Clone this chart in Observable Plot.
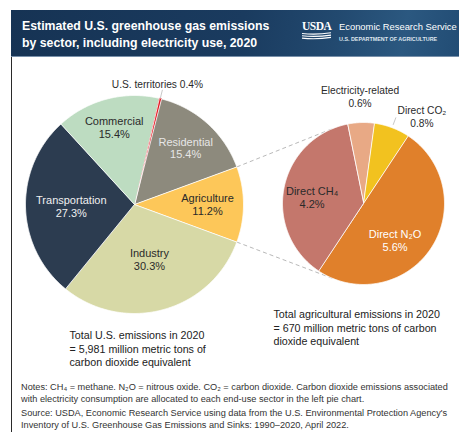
<!DOCTYPE html>
<html>
<head>
<meta charset="utf-8">
<script src="https://cdn.jsdelivr.net/npm/d3@7"></script>
<script src="https://cdn.jsdelivr.net/npm/@observablehq/plot@0.6"></script>
<style>
  html, body { margin: 0; padding: 0; background: #fff; }
  body { width: 459px; height: 432px; position: relative; overflow: hidden; font-family: "Liberation Sans", Arial, sans-serif; }
  #header { position: absolute; left: 11px; top: 10px; width: 460px; height: 47px;
    background: linear-gradient(100deg, #163354 0%, #1a3b5f 50%, #22496f 70%, #2b5880 85%, #204a72 100%); border-bottom: 1px solid #7890aa; box-sizing: border-box; }
  #title { position: absolute; left: 11px; top: 8px; color: #fff; font-weight: bold; font-size: 12.3px; line-height: 16.5px; }
  #usda { position: absolute; left: 291px; top: 10px; color: #fff; font-family: "Liberation Serif", "DejaVu Serif", serif; font-size: 11.5px; letter-spacing: -0.5px; font-weight: bold; line-height: 12px; }
  #ers { position: absolute; left: 328px; top: 11px; color: #fff; font-size: 9.4px; white-space: nowrap; line-height: 12px; }
  #dept { position: absolute; left: 328px; top: 26px; color: #dfe6ee; font-size: 5.4px; font-weight: bold; white-space: nowrap; line-height: 6px; }
  #stripes { position: absolute; left: 290px; top: 22px; }
  #frame { position: absolute; left: 11px; top: 57px; width: 1.3px; height: 380px; background: #2a2a2a; }
  #chart { position: absolute; left: 0; top: 57px; }
  #notes { position: absolute; left: 21px; top: 382px; font-size: 9.2px; line-height: 11.8px; color: #333; white-space: nowrap; }
  #notes p { margin: 0; }
  #notes p + p { margin-top: 2.5px; }
</style>
</head>
<body>
<div id="header">
  <div id="title">Estimated U.S. greenhouse gas emissions<br>by sector, including electricity use, 2020</div>
  <div id="usda">USDA</div>
  <svg id="stripes" width="32" height="8">
    <path d="M1,1.5 Q15,3 30,0.8" stroke="#fff" stroke-width="1.1" fill="none"/>
    <path d="M1,3.8 Q15,5.3 30,3.1" stroke="#fff" stroke-width="1.1" fill="none"/>
    <path d="M1,6.1 Q15,7.6 30,5.4" stroke="#fff" stroke-width="1.1" fill="none"/>
  </svg>
  <div id="ers">Economic Research Service</div>
  <div id="dept">U.S. DEPARTMENT OF AGRICULTURE</div>
</div>
<div id="frame"></div>
<div id="chart"></div>
<div id="notes">
  <p>Notes: CH₄ = methane. N₂O = nitrous oxide. CO₂ = carbon dioxide. Carbon dioxide emissions associated<br>with electricity consumption are allocated to each end-use sector in the left pie chart.</p>
  <p>Source: USDA, Economic Research Service using data from the U.S. Environmental Protection Agency's<br>Inventory of U.S. Greenhouse Gas Emissions and Sinks: 1990–2020, April 2022.</p>
</div>
<script>
// ---- data ----
const sectors = ["U.S. territories", "Residential", "Agriculture", "Industry", "Transportation", "Commercial"];
const sectorShares = [0.4, 15.4, 11.2, 30.3, 27.3, 15.4];
const agSources = ["Electricity-related", "Direct CO₂", "Direct N₂O", "Direct CH₄"];
const agShares = [0.6, 0.8, 5.6, 4.2];
const totalUS = "5,981";
const totalAg = "670";
const year = 2020;

// ---- styles ----
const sectorColor = {"U.S. territories": "#e3151e", "Residential": "#8d8a7d", "Agriculture": "#fdc759",
  "Industry": "#d7d9a6", "Transportation": "#2c3c50", "Commercial": "#bddcc1"};
const sectorLabelColor = {"Residential": "#e6e6e6", "Agriculture": "#2a2a2a", "Industry": "#2a2a2a",
  "Transportation": "#f0f0f0", "Commercial": "#2a2a2a"};
const sectorLabelR = {"Residential": 0.70, "Agriculture": 0.67, "Industry": 0.52, "Transportation": 0.58, "Commercial": 0.73};
const agColor = {"Electricity-related": "#e8a985", "Direct CO₂": "#f2c21f", "Direct N₂O": "#e0802b", "Direct CH₄": "#c4776c"};
const agLabelColor = {"Direct N₂O": "#ffffff", "Direct CH₄": "#2a2a2a"};
const agLabelPos = {"Direct N₂O": [0.6, 16], "Direct CH₄": [0.64, -4]}; // [radius fraction, angle nudge]

// ---- layout (page pixel space) ----
const top0 = 57, H = 318, W = 459;
const Lp = {cx: 134, cy: 204, r: 109};
const Rp = {cx: 363, cy: 203, r: 81, start: -11.5};
const rad = a => a * Math.PI / 180;
const pt = (c, a, r) => [c.cx + r * Math.sin(rad(a)), c.cy - r * Math.cos(rad(a))];

function slices(names, vals, c, start) {
  const tot = d3.sum(vals);
  let a = start;
  return names.map((n, i) => {
    const a0 = a, a1 = a + vals[i] / tot * 360; a = a1;
    return {name: n, value: vals[i], a0, a1, mid: (a0 + a1) / 2};
  });
}
// left pie rotated so Agriculture is centred on 3 o'clock
const agIdx = sectors.indexOf("Agriculture");
const before = d3.sum(sectorShares.slice(0, agIdx));
Lp.start = 90 - (before + sectorShares[agIdx] / 2) / d3.sum(sectorShares) * 360;

const left = slices(sectors, sectorShares, Lp, Lp.start);
const right = slices(agSources, agShares, Rp, Rp.start);

function polys(sl, c, colorOf, strokeOf) {
  const out = [];
  for (const s of sl) {
    const n = Math.max(2, Math.ceil((s.a1 - s.a0) / 0.5));
    out.push({key: s.name, x: c.cx, y: c.cy, fill: colorOf(s.name), stroke: strokeOf(s.name)});
    for (let i = 0; i <= n; i++) {
      const [x, y] = pt(c, s.a0 + (s.a1 - s.a0) * i / n, c.r);
      out.push({key: s.name, x, y, fill: colorOf(s.name), stroke: strokeOf(s.name)});
    }
  }
  return out;
}
const leftPoly = polys(left, Lp, n => sectorColor[n], n => n === "U.S. territories" ? sectorColor[n] : "#ffffff");
const rightPoly = polys(right, Rp, n => agColor[n], n => "#ffffff");

// tangent connectors from the Agriculture slice to the right pie
function tangent(P, c, pickTop) {
  const dx = P[0] - c.cx, dy = P[1] - c.cy, d = Math.hypot(dx, dy);
  const base = Math.atan2(dy, dx), off = Math.acos(c.r / d);
  const t1 = [c.cx + c.r * Math.cos(base + off), c.cy + c.r * Math.sin(base + off)];
  const t2 = [c.cx + c.r * Math.cos(base - off), c.cy + c.r * Math.sin(base - off)];
  return pickTop ? (t1[1] < t2[1] ? t1 : t2) : (t1[1] > t2[1] ? t1 : t2);
}
const agSlice = left[agIdx];
const pTop = pt(Lp, agSlice.a0, Lp.r), pBot = pt(Lp, agSlice.a1, Lp.r);
const tTop = tangent(pTop, Rp, true), tBot = tangent(pBot, Rp, false);
const connectors = [
  {x1: pTop[0], y1: pTop[1], x2: tTop[0], y2: tTop[1]},
  {x1: pBot[0], y1: pBot[1], x2: tBot[0], y2: tBot[1]}
];

const fmt = v => `${v}%`;
// inside labels
const leftLabels = left.filter(s => sectorLabelR[s.name]).map(s => {
  const [x, y] = pt(Lp, s.mid, Lp.r * sectorLabelR[s.name]);
  return {x, y, text: `${s.name}\n${fmt(s.value)}`, color: sectorLabelColor[s.name]};
});
const rightLabels = right.filter(s => agLabelPos[s.name]).map(s => {
  const [f, da] = agLabelPos[s.name];
  const [x, y] = pt(Rp, s.mid + da, Rp.r * f);
  return {x, y, text: `${s.name}\n${fmt(s.value)}`, color: agLabelColor[s.name]};
});
// outside labels + leaders
const terr = left[sectors.indexOf("U.S. territories")];
const terrA = pt(Lp, terr.mid, Lp.r), terrB = pt(Lp, terr.mid, Lp.r + 9);
const co2 = right[agSources.indexOf("Direct CO₂")];
const co2A = pt(Rp, co2.mid, Rp.r + 3), co2B = pt(Rp, co2.mid, Rp.r + 11);
const elec = right[agSources.indexOf("Electricity-related")];
const elecP = pt(Rp, elec.mid, Rp.r + 26);
const leaders = [
  {x1: terrA[0], y1: terrA[1], x2: terrB[0], y2: terrB[1]},
  {x1: co2A[0], y1: co2A[1], x2: co2B[0], y2: co2B[1]}
];
const outside = [
  {x: terrB[0] - 5, y: terrB[1] - 6, text: `${terr.name} ${fmt(terr.value)}`, anchor: "start"},
  {x: co2B[0] + 26, y: co2B[1] - 1, text: `${co2.name}\n${fmt(co2.value)}`, anchor: "middle"},
  {x: elecP[0], y: elecP[1], text: `${elec.name}\n${fmt(elec.value)}`, anchor: "middle"}
];
const totals = [
  {x: 69, y: 329, text: `Total U.S. emissions in ${year}\n= ${totalUS} million metric tons of\ncarbon dioxide equivalent`},
  {x: 273, y: 308, text: `Total agricultural emissions in ${year}\n= ${totalAg} million metric tons of carbon\ndioxide equivalent`}
];

const chart = Plot.plot({
  width: W, height: H, margin: 0,
  x: {domain: [0, W], range: [0, W], axis: null},
  y: {domain: [top0, top0 + H], range: [0, H], axis: null},
  color: {type: "identity"},
  style: {fontFamily: "'Liberation Sans', Arial, sans-serif", background: "transparent"},
  marks: [
    Plot.link(connectors, {x1: "x1", y1: "y1", x2: "x2", y2: "y2", stroke: "#b9b9b9", strokeWidth: 1, strokeDasharray: "4,3"}),
    Plot.line(leftPoly, {x: "x", y: "y", z: "key", fill: "fill", stroke: "stroke", strokeWidth: 0.8, curve: "linear-closed"}),
    Plot.line(rightPoly, {x: "x", y: "y", z: "key", fill: "fill", stroke: "stroke", strokeWidth: 0.8, curve: "linear-closed"}),
    Plot.link(leaders, {x1: "x1", y1: "y1", x2: "x2", y2: "y2", stroke: "#c8c8c8", strokeWidth: 1}),
    Plot.text(leftLabels, {x: "x", y: "y", text: "text", fill: "color", fontSize: 11, lineHeight: 1.15}),
    Plot.text(rightLabels, {x: "x", y: "y", text: "text", fill: "color", fontSize: 11, lineHeight: 1.2}),
    Plot.text(outside, {x: "x", y: "y", text: "text", textAnchor: "anchor", fill: "#2a2a2a", fontSize: 10.2, lineHeight: 1.3}),
    Plot.text(totals, {x: "x", y: "y", text: "text", textAnchor: "start", lineAnchor: "top", fill: "#222", fontSize: 10.7, lineHeight: 1.27})
  ]
});
document.getElementById("chart").appendChild(chart);
</script>
</body>
</html>
